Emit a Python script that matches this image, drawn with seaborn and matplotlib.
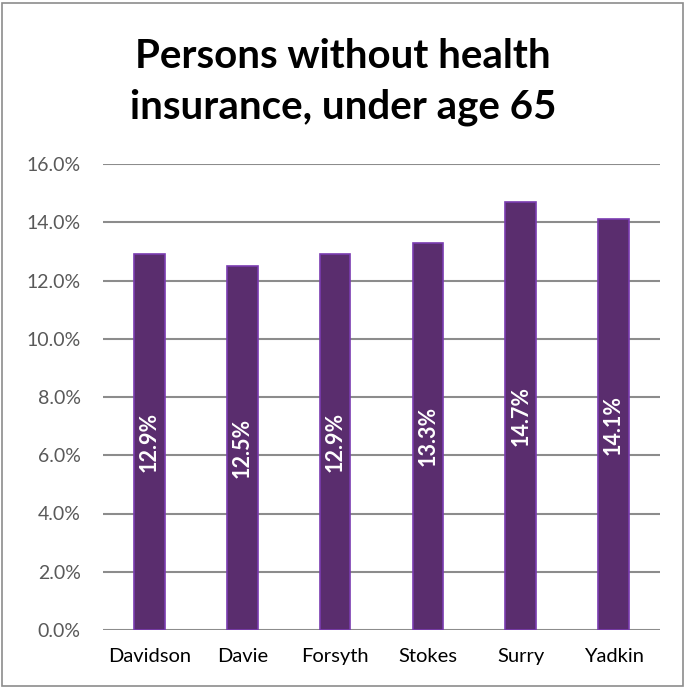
import matplotlib
matplotlib.use("Agg")
import matplotlib.pyplot as plt
from matplotlib.patches import Rectangle
from matplotlib.ticker import FuncFormatter, MultipleLocator
import seaborn as sns
import pandas as pd

counties = ["Davidson", "Davie", "Forsyth", "Stokes", "Surry", "Yadkin"]
uninsured_pct = [12.9, 12.5, 12.9, 13.3, 14.7, 14.1]

df = pd.DataFrame({"county": counties, "pct": uninsured_pct})

sns.set_theme(style="white")
plt.rcParams["font.family"] = ["Lato", "DejaVu Sans"]

W, H = 686, 688
fig = plt.figure(figsize=(W / 100, H / 100), dpi=100)
ax = fig.add_axes([103 / W, 1 - 630 / H, (660 - 103) / W, (630 - 164) / H])

sns.barplot(data=df, x="county", y="pct", ax=ax, color="#5a2d6e",
            width=0.33, saturation=1, edgecolor="#7a3cb0", linewidth=1.2,
            zorder=3)

ax.set_ylim(0, 16)
ax.yaxis.set_major_locator(MultipleLocator(2))
ax.yaxis.set_major_formatter(FuncFormatter(lambda v, _: f"{v:.1f}%"))
ax.grid(axis="y", color="#8c8c8c", linewidth=1.5, zorder=0)
ax.set_axisbelow(True)
for s in ax.spines.values():
    s.set_visible(False)
ax.set_xlabel("")
ax.set_ylabel("")
ax.tick_params(axis="y", length=0, pad=16, labelsize=14, labelcolor="#595959")
ax.tick_params(axis="x", length=0, pad=13, labelsize=14.5, labelcolor="#000000")

for i, v in enumerate(uninsured_pct):
    ax.text(i, v / 2, f"{v:.1f}%", rotation=90, ha="center", va="center",
            color="white", fontsize=15.5, fontweight="bold", zorder=4)

fig.text(0.5, 1 - 82 / H, "Persons without health\ninsurance, under age 65",
         ha="center", va="center", fontsize=29, fontweight="bold",
         color="black", linespacing=1.42)

fig.patches.append(Rectangle((2 / W, 2 / H), (W - 5) / W, (H - 5) / H,
                             transform=fig.transFigure, fill=False,
                             edgecolor="#8c8c8c", linewidth=1.2))

fig.savefig("out.png", dpi=100)
